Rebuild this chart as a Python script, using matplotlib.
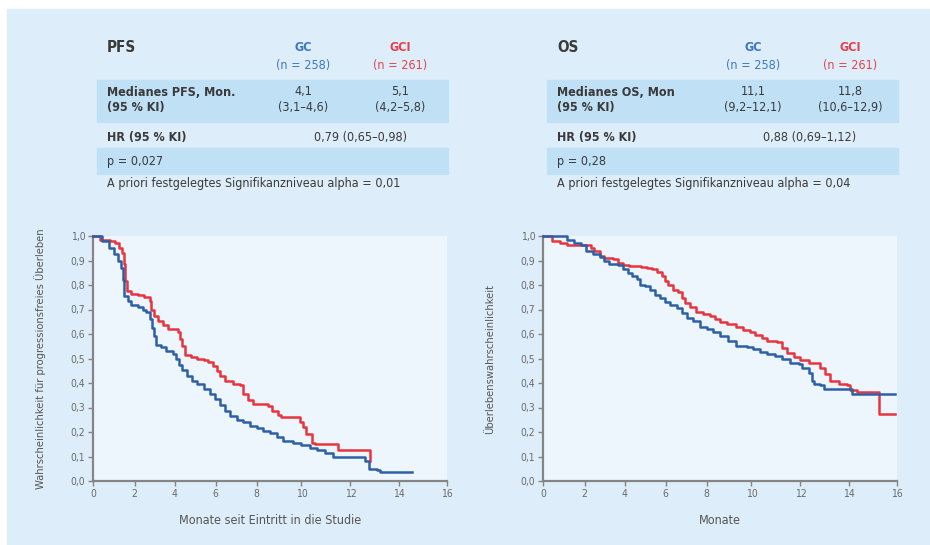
import numpy as np
import matplotlib
matplotlib.use("Agg")
from matplotlib import pyplot as plt
from matplotlib.patches import Rectangle

plt.rcParams["font.family"] = ["DejaVu Sans"]
plt.rcParams["font.stretch"] = "condensed"

# Kaplan-Meier curves (months, survival)
pfs_gc_t = [0, 0.42, 0.75, 1.0, 1.2, 1.33, 1.42, 1.5, 1.67, 1.83, 2.16, 2.4, 2.57, 2.74, 2.85, 2.98, 3.07,
            3.31, 3.56, 3.9, 4.05, 4.2, 4.37, 4.61, 4.85, 5.09, 5.41, 5.73, 5.97, 6.21, 6.46, 6.7, 7.03,
            7.35, 7.67, 8.0, 8.3, 8.59, 8.89, 9.19, 9.63, 10.0, 10.34, 10.62, 10.97, 11.3, 12.62, 12.76,
            13.1, 13.24, 14.55]
pfs_gc_s = [1.0, 0.98, 0.95, 0.925, 0.90, 0.87, 0.82, 0.755, 0.735, 0.72, 0.71, 0.70, 0.69, 0.66, 0.625,
            0.59, 0.555, 0.545, 0.53, 0.52, 0.50, 0.475, 0.455, 0.43, 0.41, 0.395, 0.375, 0.355, 0.335,
            0.31, 0.285, 0.265, 0.25, 0.24, 0.225, 0.215, 0.205, 0.195, 0.18, 0.165, 0.155, 0.147, 0.136,
            0.125, 0.115, 0.10, 0.08, 0.05, 0.045, 0.035, 0.035]

pfs_gci_t = [0, 0.33, 0.83, 1.08, 1.25, 1.37, 1.47, 1.55, 1.63, 1.83, 2.16, 2.49, 2.74, 2.82, 2.95, 3.15,
             3.41, 3.64, 4.13, 4.26, 4.37, 4.48, 4.77, 5.09, 5.41, 5.65, 5.89, 6.05, 6.21, 6.46, 6.86,
             7.19, 7.35, 7.59, 7.84, 8.3, 8.52, 8.67, 8.96, 9.11, 9.93, 10.07, 10.2, 10.41, 10.55, 11.48,
             12.8, 12.83]
pfs_gci_s = [1.0, 0.985, 0.98, 0.97, 0.95, 0.93, 0.885, 0.815, 0.775, 0.765, 0.76, 0.75, 0.735, 0.70,
             0.675, 0.655, 0.635, 0.62, 0.61, 0.58, 0.55, 0.515, 0.505, 0.50, 0.495, 0.485, 0.47, 0.45,
             0.43, 0.41, 0.395, 0.39, 0.355, 0.33, 0.315, 0.313, 0.305, 0.285, 0.27, 0.26, 0.24, 0.22,
             0.19, 0.155, 0.15, 0.125, 0.08, 0.08]

os_gc_t = [0, 0.83, 1.17, 1.5, 1.83, 2.08, 2.41, 2.74, 2.98, 3.23, 3.64, 3.89, 4.13, 4.37, 4.61, 4.74,
           5.01, 5.25, 5.49, 5.73, 5.97, 6.21, 6.54, 6.78, 7.03, 7.35, 7.67, 8.0, 8.3, 8.59, 8.96, 9.33,
           9.78, 10.07, 10.34, 10.62, 10.97, 11.24, 11.59, 11.93, 12.07, 12.34, 12.48, 12.55, 12.83,
           12.97, 14.14, 15.93]
os_gc_s = [1.0, 1.0, 0.985, 0.97, 0.965, 0.94, 0.925, 0.915, 0.90, 0.885, 0.88, 0.865, 0.85, 0.835,
           0.825, 0.80, 0.795, 0.78, 0.76, 0.745, 0.73, 0.72, 0.705, 0.685, 0.665, 0.655, 0.63, 0.62,
           0.61, 0.59, 0.57, 0.55, 0.545, 0.537, 0.528, 0.517, 0.51, 0.497, 0.483, 0.476, 0.462, 0.44,
           0.41, 0.395, 0.39, 0.375, 0.355, 0.355]

os_gci_t = [0, 0.42, 0.83, 1.17, 2.33, 2.49, 2.74, 2.98, 3.39, 3.64, 3.89, 4.21, 4.77, 5.09, 5.33, 5.57,
            5.81, 5.97, 6.13, 6.37, 6.62, 6.78, 6.94, 7.19, 7.51, 7.84, 8.15, 8.37, 8.59, 8.89, 9.33,
            9.63, 9.93, 10.14, 10.41, 10.62, 11.03, 11.24, 11.45, 11.72, 12.0, 12.34, 12.69, 12.83,
            13.03, 13.24, 13.59, 13.93, 14.07, 14.34, 15.24, 15.93]
os_gci_s = [1.0, 0.98, 0.973, 0.963, 0.952, 0.94, 0.918, 0.91, 0.905, 0.89, 0.88, 0.877, 0.873, 0.87,
            0.865, 0.855, 0.837, 0.815, 0.80, 0.78, 0.77, 0.745, 0.728, 0.71, 0.69, 0.68, 0.673, 0.66,
            0.65, 0.642, 0.628, 0.615, 0.61, 0.596, 0.583, 0.57, 0.568, 0.544, 0.524, 0.506, 0.493,
            0.483, 0.48, 0.462, 0.435, 0.41, 0.395, 0.39, 0.37, 0.363, 0.275, 0.275]

# tables
groups = ["GC", "GCI"]
group_n = ["(n = 258)", "(n = 261)"]
pfs_median = ["4,1", "5,1"]
pfs_median_ci = ["(3,1–4,6)", "(4,2–5,8)"]
os_median = ["11,1", "11,8"]
os_median_ci = ["(9,2–12,1)", "(10,6–12,9)"]
x_ticks = [0, 2, 4, 6, 8, 10, 12, 14, 16]
y_ticks = [0.0, 0.1, 0.2, 0.3, 0.4, 0.5, 0.6, 0.7, 0.8, 0.9, 1.0]

BLUE = "#2d5fa6"
RED = "#e8343f"
BLUE_TXT = "#3c78c2"
RED_TXT = "#e5414b"
PANEL = "#ddeefa"
PLOT_BG = "#eef6fd"
BAND = "#bfe0f5"
GREY = "#858585"
TXT = "#3a3a3a"

W, H = 930, 545

# the printed time axis is not evenly spaced, so map the ticks as they were drawn
scale_pts = [0, 125, 246, 368, 491, 626, 773, 918, 1063, 1135]
scale_months = [0, 2, 4, 6, 8, 10, 12, 14, 16, 17]


def fwd(x):
    return np.interp(x, scale_months, scale_pts)


def inv(x):
    return np.interp(x, scale_pts, scale_months)


def px(x, y):
    """pixel (from top left) -> figure fraction"""
    return x / W, 1 - y / H


def band(fig, x0, x1, y0, y1):
    fig.patches.append(Rectangle((x0 / W, 1 - y1 / H), (x1 - x0) / W, (y1 - y0) / H,
                                 transform=fig.transFigure, color=BAND, zorder=-5))


def table(fig, dx, title, median_label, med, med_ci, hr, p, alpha):
    fs = 9
    band(fig, 97 + dx, 448 + dx, 80, 122)
    band(fig, 97 + dx, 448 + dx, 148, 174)
    fig.text(*px(107 + dx, 47), title, fontsize=11, fontweight="bold", color=TXT, va="center")
    for i, col in enumerate([303, 400]):
        c = BLUE_TXT if i == 0 else RED_TXT
        fig.text(*px(col + dx, 47), groups[i], fontsize=fs, fontweight="bold", color=c, ha="center", va="center")
        fig.text(*px(col + dx, 65), group_n[i], fontsize=fs, color=c, ha="center", va="center")
        fig.text(*px(col + dx, 92), med[i], fontsize=fs, color=TXT, ha="center", va="center")
        fig.text(*px(col + dx, 107), med_ci[i], fontsize=fs, color=TXT, ha="center", va="center")
    fig.text(*px(107 + dx, 92), median_label, fontsize=fs, fontweight="bold", color=TXT, va="center")
    fig.text(*px(107 + dx, 107), "(95 % KI)", fontsize=fs, fontweight="bold", color=TXT, va="center")
    fig.text(*px(107 + dx, 137), "HR (95 % KI)", fontsize=fs, fontweight="bold", color=TXT, va="center")
    fig.text(*px(360 + dx, 137), hr, fontsize=fs, color=TXT, ha="center", va="center")
    fig.text(*px(107 + dx, 161), p, fontsize=fs, color=TXT, va="center")
    fig.text(*px(107 + dx, 184), alpha, fontsize=fs, color=TXT, va="center")


def km_axes(fig, x0, t_gc, s_gc, t_gci, s_gci, ylabel, xlabel):
    ax = fig.add_axes([x0 / W, (H - 481) / H, 354 / W, 245 / H])
    ax.set_facecolor(PLOT_BG)
    ax.set_xscale("function", functions=(fwd, inv))
    ax.step(t_gci, s_gci, where="post", color=RED, lw=1.8, clip_on=False, zorder=3)
    ax.step(t_gc, s_gc, where="post", color=BLUE, lw=1.8, clip_on=False, zorder=4)
    ax.set_xlim(0, 16)
    ax.set_ylim(0, 1.0)
    ax.set_xticks(x_ticks)
    ax.set_xticklabels([str(v) for v in x_ticks])
    ax.set_yticks(y_ticks)
    ax.set_yticklabels([f"{v:.1f}".replace(".", ",") for v in y_ticks])
    ax.xaxis.set_minor_locator(matplotlib.ticker.NullLocator())
    for s in ["top", "right"]:
        ax.spines[s].set_visible(False)
    for s in ["left", "bottom"]:
        ax.spines[s].set_color(GREY)
        ax.spines[s].set_linewidth(1.6)
    ax.tick_params(colors=GREY, labelcolor="#6a6a6a", labelsize=7.5, length=3.5, width=1, pad=2)
    ax.set_ylabel(ylabel, fontsize=8, color="#555555", labelpad=18)
    ax.set_xlabel(xlabel, fontsize=9, color="#555555", labelpad=11)
    return ax


fig = plt.figure(figsize=(W / 100, H / 100), dpi=100)
fig.patch.set_facecolor("white")
fig.patches.append(Rectangle((7 / W, 0), 1, 1 - 9 / H, transform=fig.transFigure, color=PANEL, zorder=-10))

table(fig, 0, "PFS", "Medianes PFS, Mon.", pfs_median, pfs_median_ci, "0,79 (0,65–0,98)", "p = 0,027",
      "A priori festgelegtes Signifikanzniveau alpha = 0,01")
table(fig, 450, "OS", "Medianes OS, Mon", os_median, os_median_ci, "0,88 (0,69–1,12)", "p = 0,28",
      "A priori festgelegtes Signifikanzniveau alpha = 0,04")

km_axes(fig, 93, pfs_gc_t, pfs_gc_s, pfs_gci_t, pfs_gci_s,
        "Wahrscheinlichkeit für progressionsfreies Überleben", "Monate seit Eintritt in die Studie")
km_axes(fig, 543, os_gc_t, os_gc_s, os_gci_t, os_gci_s,
        "Überlebenswahrscheinlichkeit", "Monate")

fig.savefig("out.png", dpi=100)
